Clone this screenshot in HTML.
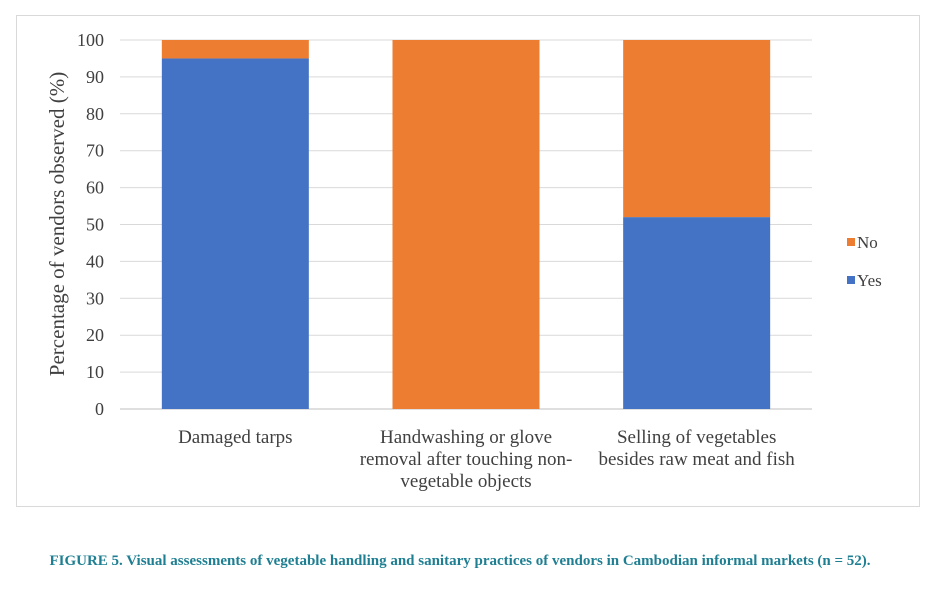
<!DOCTYPE html>
<html><head><meta charset="utf-8"><style>
body{margin:0;background:#fff;width:933px;height:587px;overflow:hidden;}
svg text{font-family:"Liberation Serif",serif;}
</style></head><body>
<svg width="933" height="587">
<rect x="16.5" y="15.5" width="903" height="491" fill="#fff" stroke="#d9d9d9"/>
<g id="grid"></g><g id="bars"></g><g id="xl"></g>
<text transform="translate(64,224) rotate(-90)" text-anchor="middle" font-size="21" fill="#404040">Percentage of vendors observed (%)</text>
<rect x="847" y="238" width="8" height="8" fill="#ed7d31"/>
<text x="857" y="248" font-size="17" fill="#404040">No</text>
<rect x="847" y="276" width="8" height="8" fill="#4472c4"/>
<text x="857" y="286" font-size="17" fill="#404040">Yes</text>
<text x="460" y="565" text-anchor="middle" font-size="15" font-weight="bold" fill="#1f7f92">FIGURE 5. Visual assessments of vegetable handling and sanitary practices of vendors in Cambodian informal markets (n = 52).</text>
</svg>
<script>
const categories=[["Damaged tarps"],["Handwashing or glove","removal after touching non-","vegetable objects"],["Selling of vegetables","besides raw meat and fish"]];
const yesValues=[95,0,52];
const noValues=[5,100,48];
const yTicks=[0,10,20,30,40,50,60,70,80,90,100];
const NS="http://www.w3.org/2000/svg";
const y0=409,y1=40,x0=120,x1=812;
const yS=v=>y0-(v/100)*(y0-y1);
const band=(x1-x0)/categories.length, bw=147;
const cx=i=>x0+band*(i+0.5);
function mk(t,a,p){const e=document.createElementNS(NS,t);for(const k in a)e.setAttribute(k,a[k]);p.appendChild(e);return e;}
const g=document.getElementById('grid'),b=document.getElementById('bars'),xl=document.getElementById('xl');
yTicks.forEach(v=>{
 const l=mk('line',{x1:x0,x2:x1,y1:yS(v),y2:yS(v),stroke:v===0?'#bfbfbf':'#d9d9d9','stroke-width':1},g);
 
 
 const t=mk('text',{x:104,y:yS(v)+6,'text-anchor':'end','font-size':18,fill:'#404040'},g);
 t.textContent=v;
 
 
});
categories.forEach((c,i)=>{
 const x=cx(i)-bw/2;
 const ry=mk('rect',{x:x,y:yS(yesValues[i]),width:bw,height:y0-yS(yesValues[i]),fill:'#4472c4'},b);
 
 
 const rn=mk('rect',{x:x,y:yS(yesValues[i]+noValues[i]),width:bw,height:yS(yesValues[i])-yS(yesValues[i]+noValues[i]),fill:'#ed7d31'},b);
 
 
 c.forEach((line,j)=>{
  const t=mk('text',{x:cx(i),y:443+j*22,'text-anchor':'middle','font-size':19,fill:'#404040'},xl);
  t.textContent=line;
  
  
 });
});
</script>
</body></html>
